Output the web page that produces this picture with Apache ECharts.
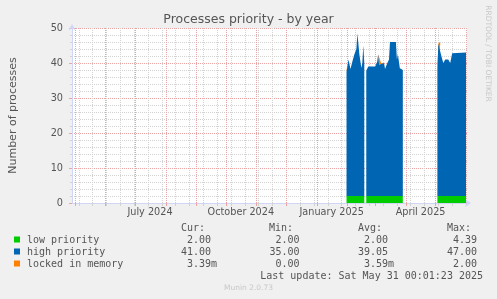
<!DOCTYPE html>
<html>
<head>
<meta charset="utf-8">
<script src="https://cdn.jsdelivr.net/npm/echarts@6/dist/echarts.min.js"></script>
<style>
  html, body { margin: 0; padding: 0; background: #f0f0f0; }
  #chart { width: 497px; height: 299px; }
</style>
</head>
<body>
<div id="chart"></div>
<script>
// Munin "Processes priority - by year" redrawn with ECharts.
// Axis is one category per day, 400 days, so one day is one pixel like rrdtool.
var AXIS_START = [2024, 3, 28];
var AXIS_DAYS = 400;
var MONTHS = ["January", "February", "March", "April", "May", "June", "July",
              "August", "September", "October", "November", "December"];

// sampled days (null rows are the gaps where munin had no data)
var sampleDates = [
  "2025-01-31", "2025-02-02", "2025-02-04", "2025-02-06", "2025-02-08", "2025-02-10",
  "2025-02-11", "2025-02-13", "2025-02-15", "2025-02-16", "2025-02-17", "2025-02-18",
  "2025-02-19",
  "2025-02-20", "2025-02-22", "2025-03-01", "2025-03-03", "2025-03-04", "2025-03-05",
  "2025-03-07", "2025-03-10", "2025-03-11", "2025-03-13", "2025-03-15", "2025-03-16",
  "2025-03-22", "2025-03-23", "2025-03-24", "2025-03-26", "2025-03-29",
  "2025-04-15",
  "2025-05-03", "2025-05-04", "2025-05-05", "2025-05-06", "2025-05-07", "2025-05-09",
  "2025-05-11", "2025-05-14", "2025-05-16", "2025-05-18", "2025-06-01"
];
var lowPriority = [
  2, 2, 2, 2, 2, 2, 2, 2, 2, 2, 2, 2,
  null,
  2, 2, 2, 2, 2, 2, 2, 2, 2, 2, 2, 2, 2, 2, 2, 2, 2,
  null,
  2, 2, 2, 2, 2, 2, 2, 2, 2, 2, 2
];
var highPriority = [
  35.5, 39, 36.3, 38.5, 40.5, 42, 46.5, 40.5, 36.6, 38, 43, 38,
  null,
  35.8, 37, 37, 38.3, 40.5, 37.5, 38, 38, 36.3, 37.8, 39, 44, 44, 39, 40.5, 36.5, 36,
  null,
  36.3, 43.5, 43.5, 43.5, 40, 38, 39, 39, 38, 40.8, 41
];
var lockedInMemory = [
  0.5, 0, 0, 0, 0, 0, 0, 0, 0, 0, 0, 0,
  null,
  0, 0, 0, 0, 0, 0, 0, 0, 0, 0, 0, 0, 0, 0, 0, 0, 0,
  null,
  0, 0, 0.6, 0, 0, 0, 0, 0, 0, 0, 0
];

// legend table
var seriesNames = ["low priority", "high priority", "locked in memory"];
var seriesColors = ["#00cc00", "#0066b3", "#ff8000"];
var curVals = ["2.00 ", "41.00 ", "3.39m"];
var minVals = ["2.00 ", "35.00 ", "0.00 "];
var avgVals = ["2.00 ", "39.05 ", "3.59m"];
var maxVals = ["4.39 ", "47.00 ", "2.00 "];
var lastUpdate = "Last update: Sat May 31 00:01:23 2025";
var versionText = "Munin 2.0.73";
var sideText = "RRDTOOL / TOBI OETIKER";

var RED = "#eba3a3";
var GRAY = "#d2d2d2";
var FONT_COLOR = "#555";
var SANS = "DejaVu Sans";
var MONO = "DejaVu Sans Mono";

function dayStr(i) {
  var d = new Date(Date.UTC(AXIS_START[0], AXIS_START[1], AXIS_START[2] + i));
  return d.toISOString().slice(0, 10);
}
var days = [];
for (var i = 0; i <= AXIS_DAYS; i++) days.push(dayStr(i));

function monthStart(idx, v) { return v.slice(8) === "01"; }
function minorLine(idx) { return idx >= 7 && (idx - 7) % 14 === 0; }
function quarterLabel(idx, v) {
  var m = +v.slice(5, 7);
  return v.slice(8) === "16" && (m === 1 || m === 4 || m === 7 || m === 10);
}

// split the sample rows into contiguous runs at the null rows; each run gets its own stack
var runs = [];
var cur = null;
sampleDates.forEach(function (d, k) {
  if (highPriority[k] == null) { cur = null; return; }
  if (!cur) { cur = []; runs.push(cur); }
  cur.push(k);
});

var layers = [lowPriority, highPriority, lockedInMemory];
var series = [];
runs.forEach(function (run, r) {
  layers.forEach(function (arr, s) {
    series.push({
      name: seriesNames[s], type: "line", stack: "run" + r, xAxisIndex: 1,
      // the near-zero top layer goes under the others: at 1px/day its sliver
      // polygon otherwise paints over the blue spikes
      z: s === 2 ? 1 : 2,
      symbol: "none", lineStyle: { width: 0 },
      areaStyle: { color: seriesColors[s], opacity: 1 },
      data: run.map(function (k) { return [sampleDates[k], arr[k]]; })
    });
  });
});

// legend/table graphics
var graphics = [];
function txt(x, y, s, align) {
  return {
    type: "text", x: x, y: y, silent: true,
    style: { text: s, font: "10px '" + MONO + "'", fill: FONT_COLOR,
             align: align || "left", verticalAlign: "middle" }
  };
}
graphics.push(txt(181, 228.5, "Cur:"));
graphics.push(txt(269, 228.5, "Min:"));
graphics.push(txt(358, 228.5, "Avg:"));
graphics.push(txt(447, 228.5, "Max:"));
var cols = [[217, curVals], [305.5, minVals], [394, avgVals], [483, maxVals]];
seriesNames.forEach(function (n, r) {
  var y = 240 + r * 12;
  graphics.push({ type: "rect", silent: true,
    shape: { x: 14, y: y - 3.5, width: 6, height: 6 },
    style: { fill: seriesColors[r] } });
  graphics.push(txt(27, y, n));
  cols.forEach(function (c) { graphics.push(txt(c[0], y, c[1][r], "right")); });
});
graphics.push(txt(483, 276.5, lastUpdate, "right"));
graphics.push({
  type: "text", x: 248.5, y: 288, silent: true,
  style: { text: versionText, font: "7.5px '" + SANS + "'", fill: "#c8c8c8",
           align: "center", verticalAlign: "middle" }
});
graphics.push({
  type: "text", x: 487.5, y: 53.5, rotation: -Math.PI / 2, silent: true,
  style: { text: sideText, font: "7.5px '" + SANS + "'", fill: "#c8c8c8",
           align: "center", verticalAlign: "middle" }
});

var chart = echarts.init(document.getElementById("chart"), null, { renderer: "canvas" });
chart.setOption({
  backgroundColor: "#f0f0f0",
  animation: false,
  title: {
    text: "Processes priority - by year", left: "center", top: 13, padding: 0,
    textStyle: { fontFamily: SANS, fontSize: 12.5, fontWeight: "normal", color: FONT_COLOR }
  },
  grid: { left: 67, right: 30, top: 28, bottom: 96, show: true,
          backgroundColor: "#fff", borderWidth: 0 },
  xAxis: [
    {
      // minor grid every two weeks
      type: "category", data: days, boundaryGap: false, position: "bottom",
      axisLine: { show: false }, axisLabel: { show: false },
      axisTick: { show: true, interval: minorLine, length: 3, lineStyle: { color: GRAY } },
      splitLine: { show: true, interval: minorLine, lineStyle: { color: GRAY, type: [1, 1] } }
    },
    {
      type: "category", data: days, boundaryGap: false, position: "bottom",
      axisLine: { show: true, lineStyle: { color: "#cfd6f8" },
                  symbol: ["none", "arrow"], symbolSize: [6, 6], symbolOffset: [0, 4] },
      axisTick: { show: true, interval: monthStart, length: 3, lineStyle: { color: RED } },
      axisLabel: {
        interval: quarterLabel, margin: 4, color: FONT_COLOR,
        fontFamily: SANS, fontSize: 9.7,
        formatter: function (v) { return MONTHS[+v.slice(5, 7) - 1] + " " + v.slice(0, 4); }
      },
      splitLine: { show: true, interval: monthStart, lineStyle: { color: RED, type: [1, 1] } }
    }
  ],
  yAxis: {
    type: "value", min: 0, max: 50, interval: 10,
    name: "Number of processes", nameLocation: "middle", nameGap: 53,
    nameTextStyle: { fontFamily: SANS, fontSize: 11, color: FONT_COLOR },
    axisLine: { show: true, lineStyle: { color: "#cfd6f8" },
                symbol: ["none", "arrow"], symbolSize: [5, 6], symbolOffset: [0, 4] },
    axisTick: { show: true, length: 3, lineStyle: { color: RED } },
    minorTick: { show: true, splitNumber: 5, length: 2, lineStyle: { color: GRAY } },
    axisLabel: { margin: 9, color: FONT_COLOR, fontFamily: SANS, fontSize: 9.7 },
    splitLine: { show: true, lineStyle: { color: RED, type: [1, 1] } },
    minorSplitLine: { show: true, lineStyle: { color: GRAY, type: [1, 1] } }
  },
  series: series,
  graphic: graphics
});
</script>
</body>
</html>
